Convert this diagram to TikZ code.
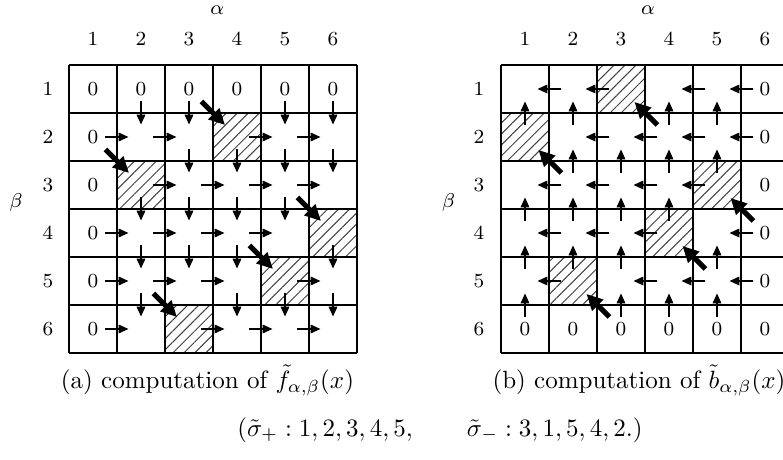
\documentclass[tikz,border=0pt]{standalone}
\usepackage{amsmath,amssymb}
\usetikzlibrary{arrows.meta,patterns.meta}

\tikzset{
  gridline/.style={line width=0.75pt},
  thinarr/.style={line width=0.5pt,-{Triangle[length=4pt,width=3.5pt]}},
  diagarr/.style={line width=2pt,-{Triangle[length=6.4pt,width=6pt]}},
  hatched/.style={pattern={Lines[angle=45,distance=3.1pt,line width=0.4pt]},pattern color=black!75},
  lbl/.style={font=\footnotesize,inner sep=0pt},
  captext/.style={font=\normalsize,inner sep=0pt},
}

\begin{document}
\begin{tikzpicture}[x=19.2pt,y=19.2pt]
	\useasboundingbox (-1.4375,1.3542) rectangle (14.875,-8.2292);
	% (a) forward table
	\foreach \b/\h in {2/4,3/2,4/6,5/5,6/3}
		\fill[hatched] (\h-1,-\b+1) rectangle ++(1,-1);
	\foreach \i in {0,...,6} {
		\draw[gridline] (\i,0) -- (\i,-6);
		\draw[gridline] (0,-\i) -- (6,-\i);
	}
	\foreach \a in {1,...,6}
		\node[lbl] (fz-\a) at (\a-0.5,-0.5) {\(0\)};
	\foreach \b in {2,...,6}
		\node[lbl] (fzr-\b) at (0.5,-\b+0.5) {\(0\)};
	\foreach \b/\h in {2/4,3/2,4/6,5/5,6/3}
		\foreach \a in {2,...,6} {
			\ifnum\a=\h
				\draw[diagarr] (\a-1.24,-\b+1.24) -- (\a-0.75,-\b+0.75);
			\else
				\draw[thinarr] (\a-1.25,-\b+0.5) -- (\a-0.76,-\b+0.5);
				\draw[thinarr] (\a-0.5,-\b+1.25) -- (\a-0.5,-\b+0.76);
			\fi
		}
	\foreach \a in {1,...,6}
		\node[lbl] (fcol-\a) at (\a-0.5,0.54) {\(\a\)};
	\foreach \b in {1,...,6}
		\node[lbl] (frow-\b) at (-0.44,-\b+0.5) {\(\b\)};
	\node[lbl] (falpha) at (3.09,1.146) {\(\alpha\)};
	\node[lbl] (fbeta) at (-1.1,-2.875) {\(\beta\)};
	\node[captext] (fcap) at (2.885,-6.573) {(a) computation of \(\tilde{f}_{\alpha,\beta}(x)\)};
	% (b) backward table
	\begin{scope}[shift={(9,0)}]
		\foreach \b/\h in {1/3,2/1,3/5,4/4,5/2}
			\fill[hatched] (\h-1,-\b+1) rectangle ++(1,-1);
		\foreach \i in {0,...,6} {
			\draw[gridline] (\i,0) -- (\i,-6);
			\draw[gridline] (0,-\i) -- (6,-\i);
		}
		\foreach \b in {1,...,6}
			\node[lbl] (bz-\b) at (5.5,-\b+0.5) {\(0\)};
		\foreach \a in {1,...,5}
			\node[lbl] (bzr-\a) at (\a-0.5,-5.5) {\(0\)};
		\foreach \b/\h in {1/3,2/1,3/5,4/4,5/2}
			\foreach \a in {1,...,5} {
				\ifnum\a=\h
					\draw[diagarr] (\a+0.26,-\b-0.25) -- (\a-0.22,-\b+0.23);
				\else
					\draw[thinarr] (\a+0.25,-\b+0.5) -- (\a-0.24,-\b+0.5);
					\draw[thinarr] (\a-0.5,-\b-0.25) -- (\a-0.5,-\b+0.24);
				\fi
			}
		\foreach \a in {1,...,6}
			\node[lbl] (bcol-\a) at (\a-0.5,0.54) {\(\a\)};
		\foreach \b in {1,...,6}
			\node[lbl] (brow-\b) at (-0.46,-\b+0.5) {\(\b\)};
		\node[lbl] (balpha) at (3.06,1.146) {\(\alpha\)};
		\node[lbl] (bbeta) at (-1.094,-2.875) {\(\beta\)};
		\node[captext] (bcap) at (2.875,-6.573) {(b) computation of \(\tilde{b}_{\alpha,\beta}(x)\)};
	\end{scope}
	\node[captext] (perms) at (7.73,-7.604) {\((\tilde{\sigma}_+ : 1,2,3,4,5, \qquad \tilde{\sigma}_- : 3,1,5,4,2.)\)};
\end{tikzpicture}
\end{document}
